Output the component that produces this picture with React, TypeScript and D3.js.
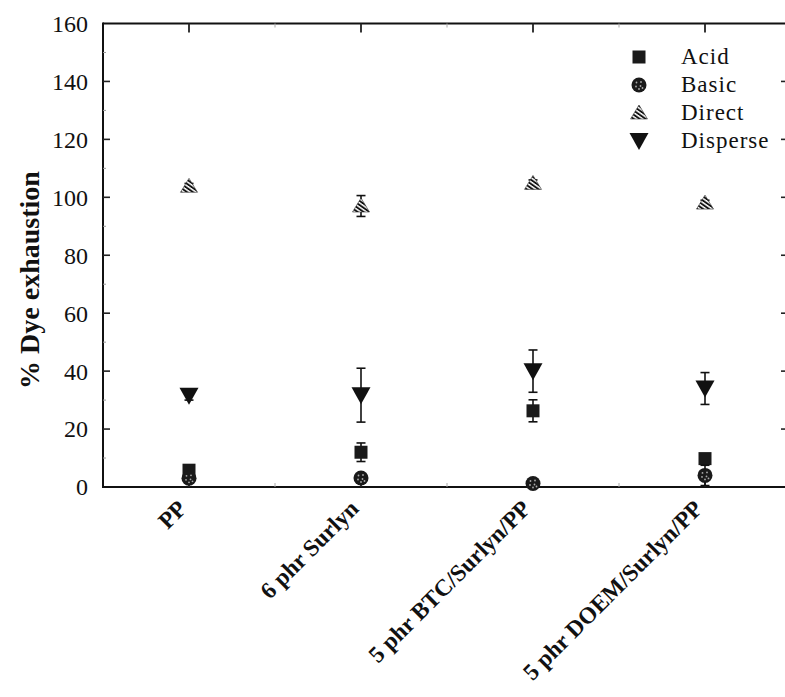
import React from "react";
import * as d3 from "d3";

const W = 785;
const H = 697;

const categories = ["PP", "6 phr Surlyn", "5 phr BTC/Surlyn/PP", "5 phr DOEM/Surlyn/PP"];
const acid = [5.8, 12, 26.3, 9.8];
const acidErr = [1.6, 3.2, 3.8, 0.8];
const basic = [3, 3.1, 1.2, 4];
const basicErr = [1, 0.6, 0.5, 3.5];
const direct = [103.8, 97, 104.8, 98];
const directErr = [1, 3.6, 1.2, 1];
const disperse = [31.5, 31.7, 40, 34];
const disperseErr = [1.5, 9.3, 7.3, 5.5];
const yTicks = [0, 20, 40, 60, 80, 100, 120, 140, 160];
const legendNames = ["Acid", "Basic", "Direct", "Disperse"];

const FONT = "'Liberation Serif', 'Times New Roman', serif";

const Marker = ({ kind, cx, cy }: { kind: string; cx: number; cy: number }) => {
  if (kind === "Acid") {
    return <rect x={cx - 6.5} y={cy - 6.5} width={13} height={13} fill="#1a1a1a" />;
  }
  if (kind === "Basic") {
    return (
      <g>
        <circle cx={cx} cy={cy} r={7.5} fill="#1a1a1a" />
        {[[-2.5, -2.5], [2, -3], [-3, 1.5], [1.5, 1], [0, 4], [3.5, 3]].map(([dx, dy], i) => (
          <circle key={i} cx={cx + dx} cy={cy + dy} r={0.9} fill="#aaa" />
        ))}
      </g>
    );
  }
  if (kind === "Direct") {
    const p = `M${cx},${cy - 8} L${cx + 8.5},${cy + 6} L${cx - 8.5},${cy + 6} Z`;
    return <path d={p} fill="url(#hatch)" stroke="#333" strokeWidth={0.6} />;
  }
  // Disperse: down triangle
  const p = `M${cx - 9.5},${cy - 8} L${cx + 9.5},${cy - 8} L${cx},${cy + 9} Z`;
  return <path d={p} fill="#111" />;
};

export default function App() {
  const x = d3.scaleLinear().domain([0.5, 4.5]).range([103, 791]);
  const y = d3.scaleLinear().domain([0, 160]).range([487, 23.5]);
  const minorY = d3.range(10, 160, 20);
  const minorX = [1, 2, 3, 4].map((d) => d + 0.5);
  const majorX = [1, 2, 3, 4];

  const series = [
    { name: "Acid", values: acid, errs: acidErr },
    { name: "Basic", values: basic, errs: basicErr },
    { name: "Direct", values: direct, errs: directErr },
    { name: "Disperse", values: disperse, errs: disperseErr },
  ];

  const [x0, x1] = x.range();
  const [yb, yt] = y.range();

  return (
    <svg
      width={W}
      height={H}
      style={{ position: "absolute", left: 0, top: 0, background: "#fff" }}
    >
      <defs>
        <pattern id="hatch" width={3.4} height={3.4} patternUnits="userSpaceOnUse" patternTransform="rotate(-55)">
          <rect width={3.4} height={3.4} fill="#fff" />
          <line x1={0.8} y1={0} x2={0.8} y2={3.4} stroke="#111" strokeWidth={2.2} />
        </pattern>
      </defs>

      {/* frame */}
      <g stroke="#111" strokeWidth={2} fill="none">
        <line x1={x0} y1={yb} x2={x1} y2={yb} />
        <line x1={x0} y1={yt} x2={x1} y2={yt} />
        <line x1={x0} y1={yt - 1} x2={x0} y2={yb + 1} />
        <line x1={x1} y1={yt} x2={x1} y2={yb} />
      </g>

      {/* y ticks */}
      <g>
        {yTicks.slice(1, -1).map((t) => (
          <g key={t} stroke="#222" strokeWidth={1.6}>
            <line x1={x0} x2={x0 + 7} y1={y(t)} y2={y(t)} />
            <line x1={x1} x2={x1 - 10} y1={y(t)} y2={y(t)} />
          </g>
        ))}
        {minorY.map((t) => (
          <g key={t} stroke="#999" strokeWidth={1}>
            <line x1={x0} x2={x0 + 3} y1={y(t)} y2={y(t)} />
            <line x1={x1} x2={x1 - 3} y1={y(t)} y2={y(t)} />
          </g>
        ))}
        {yTicks.map((t) => (
          <text
            key={t}
            x={88}
            y={y(t)}
            dy="0.35em"
            textAnchor="end"
            fontFamily={FONT}
            fontSize={24}
            fill="#111"
          >
            {t}
          </text>
        ))}
      </g>

      {/* x ticks */}
      <g>
        {majorX.map((t) => (
          <g key={t} stroke="#222" strokeWidth={1.8}>
            <line x1={x(t)} x2={x(t)} y1={yt} y2={yt + 9} />
            <line x1={x(t)} x2={x(t)} y1={yb} y2={yb - 5} />
          </g>
        ))}
        {minorX.map((t) => (
          <g key={t} stroke="#aaa" strokeWidth={1}>
            <line x1={x(t)} x2={x(t)} y1={yt} y2={yt + 4} />
            <line x1={x(t)} x2={x(t)} y1={yb} y2={yb - 4} />
          </g>
        ))}
        {categories.map((c, i) => (
          <text
            key={c}
            transform={`translate(${x(i + 1) - 1},${yb + 23}) rotate(-45)`}
            textAnchor="end"
            fontFamily={FONT}
            fontWeight="bold"
            fontSize={23.5}
            fill="#111"
          >
            {c}
          </text>
        ))}
      </g>

      {/* y axis title */}
      <text
        transform={`translate(39,${280}) rotate(-90)`}
        textAnchor="middle"
        fontFamily={FONT}
        fontWeight="bold"
        fontSize={28}
        fill="#111"
      >
        % Dye exhaustion
      </text>

      {/* error bars and markers */}
      {series.map((s) => (
        <g key={s.name}>
          {s.values.map((v, i) => {
            const cx = x(i + 1);
            const e = s.errs[i];
            return (
              <g key={i} stroke="#111" strokeWidth={1.6}>
                <line x1={cx} x2={cx} y1={y(v + e)} y2={y(v - e)} />
                <line x1={cx - 4.5} x2={cx + 4.5} y1={y(v + e)} y2={y(v + e)} />
                <line x1={cx - 4.5} x2={cx + 4.5} y1={y(v - e)} y2={y(v - e)} />
              </g>
            );
          })}
          {s.values.map((v, i) => (
            <Marker key={i} kind={s.name} cx={x(i + 1)} cy={y(v)} />
          ))}
        </g>
      ))}

      {/* legend */}
      <g>
        {legendNames.map((n, i) => {
          const cy = 57 + i * 28;
          return (
            <g key={n}>
              <Marker kind={n} cx={639} cy={cy} />
              <text
                x={681}
                y={cy + 7}
                fontFamily={FONT}
                fontSize={23}
                letterSpacing={1}
                fill="#111"
              >
                {n}
              </text>
            </g>
          );
        })}
      </g>
    </svg>
  );
}
